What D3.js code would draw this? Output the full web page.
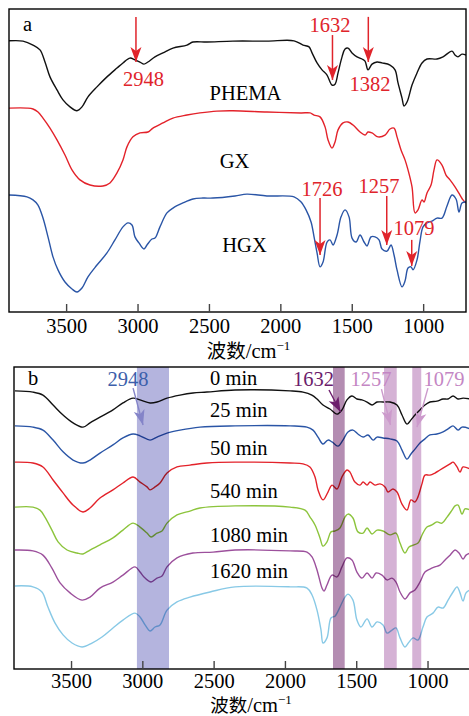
<!DOCTYPE html>
<html><head><meta charset="utf-8">
<script src="https://cdn.jsdelivr.net/npm/d3@7"></script>
<style>html,body{margin:0;padding:0;background:#fff;} svg{display:block;}</style>
</head><body>
<svg id="chart" width="469" height="716"></svg>
<script>
// ---------- DATA (wavenumber cm-1, transmittance a.u., stacked) ----------
const xTicks = [3500, 3000, 2500, 2000, 1500, 1000];

const phema = [[3900,89.5],[3802,89.4],[3732,88.1],[3683,86.5],[3648,82.5],[3613,77.6],[3564,73.3],[3522,70.0],[3473,67.7],[3424,66.4],[3389,67.7],[3347,71.0],[3284,74.3],[3214,77.6],[3144,80.5],[3102,82.2],[3053,83.8],[3018,83.2],[2983,82.5],[2955,81.8],[2927,82.5],[2878,84.2],[2822,85.5],[2752,87.1],[2654,88.1],[2612,89.1],[2514,89.1],[2332,89.4],[2094,89.4],[1904,89.5],[1841,88.1],[1799,87.5],[1778,85.5],[1743,82.2],[1708,79.9],[1673,78.2],[1638,74.9],[1617,75.2],[1596,78.9],[1568,84.2],[1547,86.8],[1526,87.1],[1498,85.5],[1463,84.2],[1428,83.5],[1407,82.8],[1386,79.9],[1358,81.8],[1323,82.5],[1288,82.2],[1232,81.5],[1197,79.9],[1176,75.6],[1148,70.6],[1134,68.0],[1113,69.3],[1078,74.9],[1043,78.9],[1008,82.2],[973,83.5],[903,83.5],[861,84.2],[798,86.1],[777,84.8],[756,84.2],[728,85.1],[700,84.8]];

const gx = [[3900,67.3],[3774,67.3],[3732,67.0],[3697,66.0],[3662,64.0],[3613,60.7],[3564,56.8],[3508,51.8],[3459,46.9],[3403,43.6],[3333,41.9],[3242,41.6],[3193,42.6],[3144,45.9],[3102,50.2],[3074,54.5],[3032,57.8],[2983,59.1],[2927,59.4],[2892,60.7],[2822,62.4],[2752,64.0],[2654,65.0],[2563,65.7],[2444,66.3],[2332,66.4],[2094,66.0],[1855,65.7],[1792,65.7],[1764,65.0],[1722,64.4],[1687,61.1],[1666,56.8],[1638,54.1],[1617,56.1],[1596,60.1],[1561,62.4],[1526,62.7],[1491,61.7],[1442,59.4],[1407,58.4],[1386,59.4],[1358,59.1],[1316,57.8],[1267,58.4],[1232,60.4],[1204,60.7],[1183,57.8],[1155,53.5],[1127,50.2],[1106,46.9],[1078,41.3],[1057,32.7],[1036,33.7],[1008,37.0],[994,36.3],[973,39.3],[945,41.9],[924,46.9],[903,50.2],[868,48.5],[840,45.2],[812,43.6],[777,41.3],[742,38.6],[721,37.0],[700,36.0]];

const hgx = [[3900,38.6],[3774,38.0],[3732,37.0],[3697,35.3],[3662,31.0],[3627,24.8],[3592,18.2],[3557,13.9],[3508,9.9],[3459,7.6],[3424,6.6],[3389,7.9],[3347,11.6],[3284,15.5],[3214,19.5],[3158,23.8],[3102,28.1],[3067,29.4],[3039,28.7],[3018,24.8],[2990,22.8],[2955,20.8],[2934,22.1],[2899,24.1],[2878,24.4],[2843,28.1],[2794,32.7],[2752,34.3],[2682,36.0],[2612,37.3],[2542,37.6],[2472,37.6],[2318,38.3],[2234,38.9],[2094,38.3],[1904,38.0],[1855,36.3],[1820,33.7],[1785,29.7],[1764,24.8],[1743,19.5],[1722,14.9],[1701,16.5],[1673,23.1],[1652,23.8],[1631,22.1],[1603,25.4],[1575,31.4],[1547,33.7],[1519,31.4],[1498,24.4],[1470,23.1],[1442,25.4],[1414,23.1],[1393,21.8],[1365,24.8],[1337,24.8],[1309,23.8],[1288,20.8],[1253,20.1],[1225,22.1],[1204,18.8],[1183,13.9],[1148,8.3],[1127,10.2],[1106,14.5],[1085,14.9],[1071,13.9],[1043,17.2],[1022,23.4],[1001,28.1],[973,29.4],[938,30.0],[903,31.0],[868,31.0],[833,35.0],[798,38.6],[770,37.3],[749,33.0],[728,36.0],[700,36.3]];

const t0 = [[3893,92.1],[3767,91.7],[3697,90.7],[3626,87.4],[3556,84.1],[3486,81.5],[3416,80.1],[3367,81.5],[3297,83.4],[3206,85.8],[3136,88.1],[3065,89.7],[3016,89.1],[2946,88.1],[2897,88.4],[2827,89.7],[2736,90.7],[2645,91.4],[2547,91.7],[2350,92.4],[1964,92.1],[1873,91.7],[1811,90.7],[1775,89.4],[1733,87.4],[1684,86.1],[1635,84.4],[1600,85.8],[1565,89.1],[1530,90.4],[1495,89.4],[1460,89.1],[1424,88.4],[1389,87.4],[1354,88.4],[1312,88.4],[1263,88.4],[1214,87.4],[1179,84.1],[1144,81.1],[1116,82.5],[1088,84.1],[1053,85.8],[1018,87.4],[983,88.4],[934,88.7],[891,89.4],[856,89.4],[821,90.4],[786,89.4],[751,89.7],[700,89.4]];

const t25 = [[3893,80.5],[3767,80.1],[3697,79.1],[3626,75.8],[3556,71.9],[3486,69.2],[3416,68.2],[3367,69.2],[3297,71.5],[3206,74.2],[3136,76.5],[3065,77.8],[3016,77.2],[2946,75.8],[2897,76.8],[2827,78.1],[2736,79.1],[2596,80.1],[2350,80.5],[1964,80.5],[1846,80.1],[1803,79.1],[1768,76.8],[1733,74.5],[1698,75.8],[1670,75.2],[1628,73.8],[1593,75.8],[1558,78.5],[1523,79.1],[1488,77.8],[1452,76.8],[1417,77.5],[1382,75.8],[1354,76.8],[1312,76.5],[1263,76.2],[1214,75.5],[1179,72.5],[1144,69.5],[1116,71.2],[1088,72.8],[1053,74.8],[1018,76.2],[983,77.5],[934,77.8],[891,78.5],[856,79.5],[821,80.5],[786,79.1],[758,80.1],[700,79.5]];

const t50 = [[3893,68.5],[3767,68.2],[3697,66.9],[3626,62.6],[3556,58.3],[3486,54.3],[3416,52.0],[3367,53.3],[3297,56.6],[3206,59.3],[3136,61.6],[3065,63.6],[3016,61.9],[2967,60.3],[2946,59.3],[2911,60.3],[2876,61.6],[2827,64.9],[2757,66.9],[2666,67.5],[2547,68.2],[2350,68.5],[1964,68.2],[1873,67.9],[1825,66.9],[1789,63.6],[1768,59.3],[1733,56.0],[1698,58.6],[1670,60.9],[1635,59.6],[1600,63.6],[1565,65.9],[1544,65.2],[1509,61.9],[1474,60.9],[1452,61.9],[1424,60.9],[1403,61.9],[1368,60.9],[1333,61.3],[1298,60.3],[1277,58.6],[1242,59.6],[1214,58.6],[1179,54.6],[1144,52.6],[1116,56.0],[1088,55.3],[1067,57.0],[1039,61.3],[1018,64.2],[983,64.2],[948,64.9],[913,65.9],[877,66.9],[842,67.9],[821,68.5],[793,66.9],[772,65.2],[751,66.9],[700,66.2]];

const t540 = [[3893,53.6],[3767,53.6],[3718,52.6],[3683,50.3],[3634,46.0],[3591,42.1],[3528,39.4],[3458,38.4],[3416,38.1],[3367,39.4],[3297,41.1],[3206,43.4],[3136,46.0],[3065,48.3],[3016,47.0],[2967,45.0],[2939,43.7],[2897,45.0],[2862,45.7],[2827,48.3],[2757,51.0],[2666,52.3],[2596,53.3],[2350,54.0],[1964,53.6],[1859,52.6],[1824,50.3],[1789,47.7],[1754,43.4],[1733,40.7],[1705,42.1],[1677,45.4],[1649,45.7],[1614,46.7],[1579,50.3],[1558,51.3],[1523,50.0],[1488,45.4],[1452,45.0],[1424,46.7],[1389,44.7],[1354,46.0],[1312,45.7],[1263,44.4],[1221,45.0],[1193,41.7],[1158,38.4],[1130,40.4],[1095,41.1],[1067,41.7],[1032,45.0],[1004,47.0],[969,47.7],[934,48.7],[898,48.3],[863,50.3],[828,52.6],[807,54.0],[786,54.3],[758,51.3],[737,53.0],[700,52.6]];

const t1080 = [[3893,39.4],[3767,39.1],[3697,37.7],[3634,33.4],[3577,28.5],[3507,25.2],[3423,22.8],[3367,23.8],[3297,26.8],[3206,28.8],[3136,31.1],[3051,33.8],[3016,32.1],[2981,30.1],[2939,28.8],[2897,30.1],[2862,30.8],[2827,33.8],[2757,36.8],[2645,38.4],[2504,38.7],[2350,39.4],[1964,39.1],[1845,38.7],[1810,37.1],[1775,32.8],[1740,26.8],[1726,25.8],[1705,27.8],[1670,31.1],[1635,30.5],[1600,33.8],[1565,36.8],[1530,36.1],[1495,32.1],[1460,30.1],[1424,31.8],[1389,30.1],[1361,31.8],[1319,31.1],[1284,29.5],[1249,30.1],[1221,28.8],[1193,25.5],[1158,23.2],[1123,25.2],[1088,26.2],[1053,28.8],[1018,32.1],[983,33.1],[948,33.8],[913,34.4],[877,36.1],[842,37.7],[807,39.4],[779,38.4],[751,36.4],[730,37.7],[700,38.4]];

const t1620 = [[3893,27.5],[3767,27.2],[3704,25.5],[3662,20.5],[3612,15.2],[3556,11.3],[3493,8.6],[3423,7.3],[3353,8.6],[3283,10.6],[3206,13.6],[3136,16.2],[3051,18.5],[3016,17.2],[2981,14.6],[2946,12.6],[2911,13.9],[2876,14.6],[2827,19.5],[2757,22.2],[2666,23.8],[2525,25.5],[2350,27.2],[1964,27.2],[1845,26.8],[1810,24.5],[1775,19.5],[1747,12.9],[1733,8.6],[1705,10.3],[1677,16.9],[1649,17.5],[1614,20.5],[1579,23.8],[1558,24.8],[1523,22.8],[1495,16.2],[1467,13.9],[1424,16.6],[1389,13.9],[1354,15.6],[1312,14.6],[1284,11.9],[1249,12.9],[1221,13.6],[1193,10.3],[1158,7.3],[1130,8.9],[1102,10.3],[1067,9.6],[1032,13.9],[1004,17.2],[962,18.5],[927,20.5],[891,20.2],[856,22.8],[821,25.5],[793,27.2],[772,25.2],[751,22.5],[730,25.2],[700,26.2]];

const namesA = ["PHEMA", "GX", "HGX"];
const namesB = ["0 min", "25 min", "50 min", "540 min", "1080 min", "1620 min"];
const peaksA = ["2948", "1632", "1382", "1726", "1257", "1079"];
const peaksB = ["2948", "1632", "1257", "1079"];
const bandsB = [[3038, 2813], [1663, 1581], [1305, 1216], [1107, 1044]];

// ---------- LAYOUT / STYLE ----------
const svg = d3.select("#chart");
const SERIF = "'Liberation Serif','Times New Roman',serif";
const CJK = "'Noto Sans CJK SC','Noto Sans CJK JP',sans-serif";
const FS = 20.5;

const pa = {l: 9, r: 466, t: 9, b: 312};
const pb = {l: 14, r: 470.3, t: 367, b: 669};

const xa = d3.scaleLinear().domain([3900, 700]).range([pa.l, pa.r]);
const ya = d3.scaleLinear().domain([0, 100]).range([pa.b, pa.t]);
const xb = d3.scaleLinear().domain([3900, 700]).range([pb.l, pb.r]);
const yb = d3.scaleLinear().domain([0, 100]).range([pb.b, pb.t]);

const defs = svg.append("defs");
defs.append("clipPath").attr("id", "ca").append("rect")
  .attr("x", pa.l).attr("y", pa.t).attr("width", pa.r - pa.l).attr("height", pa.b - pa.t);
defs.append("clipPath").attr("id", "cb").append("rect")
  .attr("x", pb.l).attr("y", pb.t).attr("width", pb.r - pb.l).attr("height", pb.b - pb.t);

function lineGen(x, y) {
  return d3.line().x(d => x(d[0])).y(d => y(d[1])).curve(d3.curveCatmullRom.alpha(0.5));
}

function axis(x, p, titleX, titleBase, pad, cjkSize) {
  const g = svg.append("g").attr("transform", `translate(0,${p.b})`)
    .call(d3.axisBottom(x).tickValues(xTicks).tickSize(-8).tickPadding(pad).tickFormat(d3.format("d")));
  g.select(".domain").remove();
  g.selectAll(".tick line").attr("stroke", "#444").attr("stroke-width", 1.4);
  g.selectAll(".tick text").attr("font-family", SERIF).attr("font-size", FS).attr("fill", "#000");
  const t = svg.append("text").attr("x", titleX).attr("y", titleBase).attr("text-anchor", "middle")
    .attr("font-size", FS).attr("fill", "#000");
  t.append("tspan").attr("font-family", CJK).attr("font-size", cjkSize).text("波数");
  t.append("tspan").attr("font-family", SERIF).text("/cm");
  t.append("tspan").attr("font-family", SERIF).attr("font-size", 13).attr("dy", -8).text("−1");
}

function arrow(g, x1, y1, x2, y2, color, w) {
  g.append("line").attr("x1", x1).attr("y1", y1).attr("x2", x2).attr("y2", y2)
    .attr("stroke", color).attr("stroke-width", w);
  const ang = Math.atan2(y2 - y1, x2 - x1) * 180 / Math.PI;
  g.append("path").attr("d", "M0,0 L-15,-5.5 L-11,0 L-15,5.5 Z")
    .attr("fill", color).attr("transform", `translate(${x2},${y2}) rotate(${ang})`);
}

// ---------- PANEL A ----------
const seriesA = [phema, gx, hgx];
const colA = ["#111111", "#e3222a", "#2a55a6"];
const gA = svg.append("g").attr("clip-path", "url(#ca)");
seriesA.forEach((s, i) => {
  gA.append("path").datum(s).attr("d", lineGen(xa, ya)).attr("fill", "none")
    .attr("stroke", colA[i]).attr("stroke-width", 1.4);
});
svg.append("rect").attr("x", pa.l).attr("y", pa.t).attr("width", pa.r - pa.l).attr("height", pa.b - pa.t)
  .attr("fill", "none").attr("stroke", "#000").attr("stroke-width", 1.4);

svg.append("text").attr("x", 23).attr("y", 31).attr("font-family", SERIF).attr("font-size", FS).text("a");

// curve labels (wavenumber, value of baseline)
const labPosA = [[2244, 70.0], [2321, 47.5], [2251, 19.8]];
namesA.forEach((n, i) => {
  svg.append("text").attr("x", xa(labPosA[i][0])).attr("y", ya(labPosA[i][1]))
    .attr("text-anchor", "middle").attr("font-family", SERIF).attr("font-size", FS).attr("fill", "#000").text(n);
});

// peak annotations: label pos [wn, val], arrow [wn, valTop, valTip]
const RED = "#e0242b";
const annA = [
  {lab: [2958, 74.6], arr: [3011, 97.4, 82.5]},
  {lab: [1652, 92.4], arr: [1635, 91.4, 76.6]},
  {lab: [1372, 72.9], arr: [1384, 97.4, 82.5]},
  {lab: [1708, 38.4], arr: [1722, 37.6, 18.8]},
  {lab: [1309, 39.3], arr: [1255, 38.3, 22.1]},
  {lab: [1064, 25.4], arr: [1080, 23.8, 15.2]}
];
const gAnnA = svg.append("g");
annA.forEach((a, i) => {
  gAnnA.append("text").attr("x", xa(a.lab[0])).attr("y", ya(a.lab[1])).attr("text-anchor", "middle")
    .attr("font-family", SERIF).attr("font-size", FS).attr("fill", RED).text(peaksA[i]);
  arrow(gAnnA, xa(a.arr[0]), ya(a.arr[1]), xa(a.arr[0]), ya(a.arr[2]), RED, 1.5);
});

axis(xa, pa, 248.5, 358, 6.5, 19.5);

// ---------- PANEL B ----------
const seriesB = [t0, t25, t50, t540, t1080, t1620];
const colB = ["#111111", "#2a55a6", "#e3222a", "#8cc43c", "#9c509c", "#88c9e6"];
const gB = svg.append("g").attr("clip-path", "url(#cb)");
seriesB.forEach((s, i) => {
  gB.append("path").datum(s).attr("d", lineGen(xb, yb)).attr("fill", "none")
    .attr("stroke", colB[i]).attr("stroke-width", 1.4);
});
const bandCol = ["#b4b4de", "#b48db2", "#d5b2d5", "#d5b2d5"];
bandsB.forEach((b, i) => {
  gB.append("rect").attr("x", xb(b[0])).attr("width", xb(b[1]) - xb(b[0]))
    .attr("y", pb.t).attr("height", pb.b - pb.t)
    .attr("fill", bandCol[i]).style("mix-blend-mode", "multiply");
});
svg.append("rect").attr("x", pb.l).attr("y", pb.t).attr("width", pb.r - pb.l).attr("height", pb.b - pb.t)
  .attr("fill", "none").attr("stroke", "#000").attr("stroke-width", 1.4);

svg.append("text").attr("x", 28).attr("y", 385).attr("font-family", SERIF).attr("font-size", FS).text("b");

const labPosB = [94.0, 83.4, 70.9, 56.6, 42.2, 30.1];
namesB.forEach((n, i) => {
  svg.append("text").attr("x", xb(2525)).attr("y", yb(labPosB[i]))
    .attr("font-family", SERIF).attr("font-size", FS).attr("fill", "#000").text(n);
});

const annB = [
  {lab: [3100, 93.7], from: [3065, 93.0], to: [2995, 80.8], tc: "#3c5fab", ac: "#8484c8"},
  {lab: [1800, 93.7], from: [1691, 92.4], to: [1610, 85.1], tc: "#6c1d6c", ac: "#6c1d6c"},
  {lab: [1396, 93.7], from: [1323, 92.7], to: [1260, 80.8], tc: "#c486c4", ac: "#cc9acc"},
  {lab: [884, 93.7], from: [997, 93.0], to: [1074, 80.1], tc: "#c486c4", ac: "#cc9acc"}
];
const gAnnB = svg.append("g");
annB.forEach((a, i) => {
  arrow(gAnnB, xb(a.from[0]), yb(a.from[1]), xb(a.to[0]), yb(a.to[1]), a.ac, 1.4);
  gAnnB.append("text").attr("x", xb(a.lab[0])).attr("y", yb(a.lab[1])).attr("text-anchor", "middle")
    .attr("font-family", SERIF).attr("font-size", FS).attr("fill", a.tc).text(peaksB[i]);
});

axis(xb, pb, 251, 712, 4.5, 18.5);
</script>
</body></html>
